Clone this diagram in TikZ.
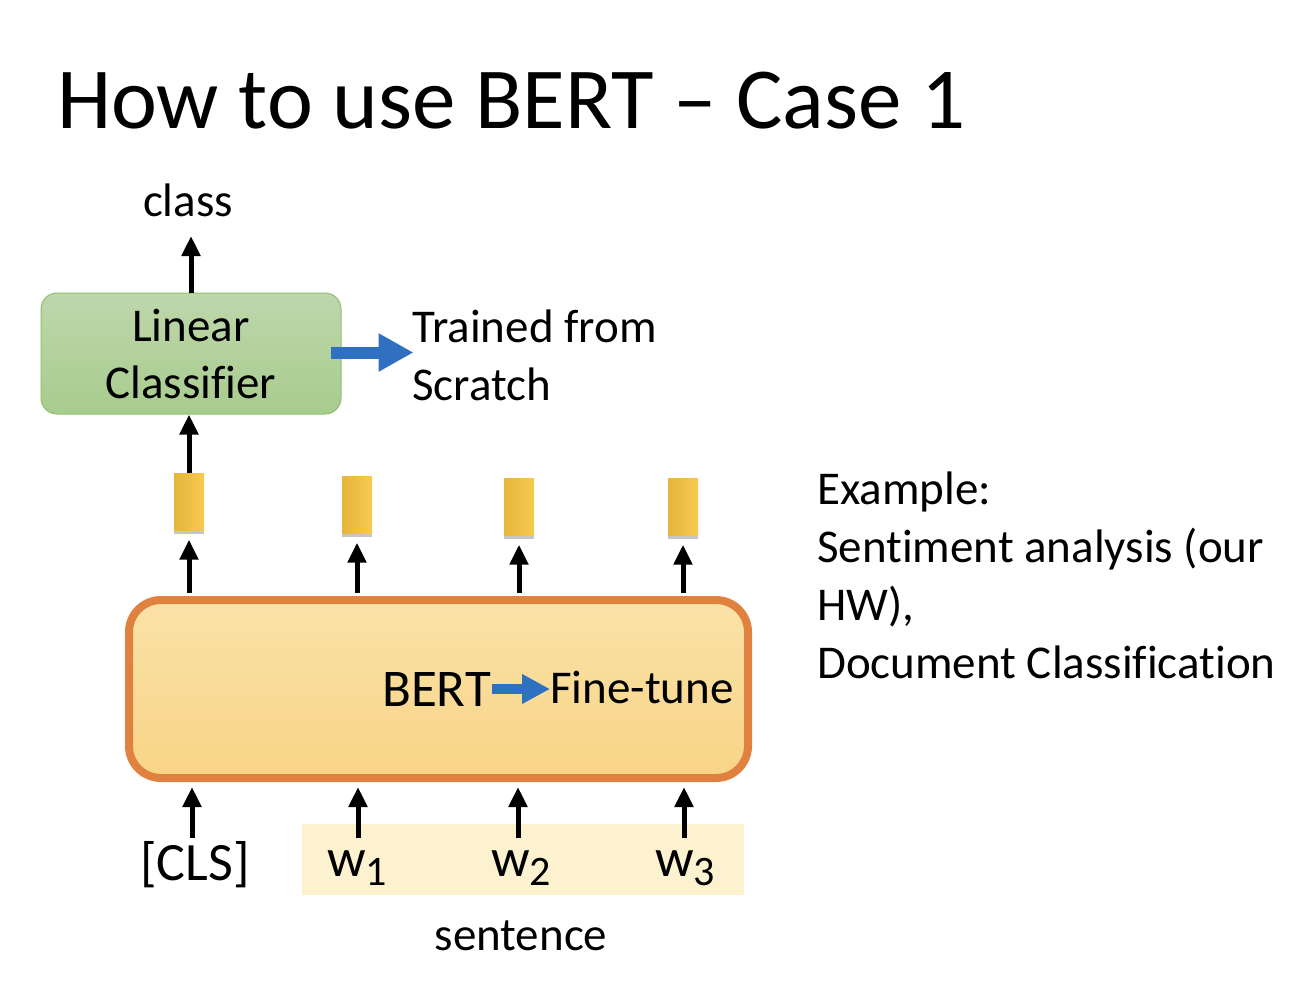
\documentclass[tikz,border=0pt]{standalone}
\usepackage{fontspec}
\setmainfont{Carlito}[Ligatures=NoCommon]
\usetikzlibrary{arrows.meta,shadows,calc}
\definecolor{lcT}{HTML}{BDD7AB}
\definecolor{lcBot}{HTML}{A8CC8E}
\definecolor{lcB}{HTML}{8FBF70}
\definecolor{bertT}{HTML}{FBE2A9}
\definecolor{bertBot}{HTML}{F8D486}
\definecolor{bertB}{HTML}{E0813F}
\definecolor{vecL}{HTML}{E6B53C}
\definecolor{vecR}{HTML}{F8CA4E}
\definecolor{sentF}{HTML}{FDF2CF}
\definecolor{blueA}{HTML}{3070C0}
\begin{document}
\begin{tikzpicture}[x=1pt,y=-1pt,
  txt/.style={inner sep=0pt, font=\fontsize{47}{58}\selectfont},
  big/.style={inner sep=0pt, font=\fontsize{54}{58}\selectfont},
  arr/.style={line width=5pt, -{Triangle[width=18pt,length=20pt]}},
  bluearr/.style={draw=blueA, line width=12pt, -{Triangle[width=36pt,length=35pt]}},
  bluearrS/.style={draw=blueA, line width=10pt, -{Triangle[width=28pt,length=28pt]}},
  vec/.style={minimum width=30pt, minimum height=57pt, inner sep=0pt,
    left color=vecL, right color=vecR,
    drop shadow={shadow xshift=0pt, shadow yshift=-3pt, opacity=0.45}},
]
\useasboundingbox (0,0) rectangle (1314,994);

% title
\node[anchor=base west, inner sep=0pt, font=\fontsize{87}{87}\selectfont] (title) at (57,128) {How to use BERT – Case 1};

% linear classifier
\node[draw=lcB, line width=1pt, rounded corners=16pt, top color=lcT, bottom color=lcBot,
      minimum width=300pt, minimum height=121pt, align=center, inner sep=0pt,
      font=\fontsize{47}{57}\selectfont] (lc) at (191,353.5) {Linear\\Classifier};
\node[txt, anchor=base] (class) at (188,216) {class};
\draw[arr] (lc.north) -- (lc.north |- 0,236);

\draw[bluearr] ($(lc.east)+(-11,-1)$) -- ++(83,0) coordinate (tipA);
\node[txt, anchor=north west, align=left] (trained) at (412,310) {Trained from\\Scratch};

% vectors
\node[vec] (v1) at (189,502) {};
\node[vec] (v2) at (357,505) {};
\node[vec] (v3) at (519,507) {};
\node[vec] (v4) at (683,507) {};
\draw[arr] (v1.north) -- (v1.north |- lc.south);

% BERT
\node[draw=bertB, line width=8pt, rounded corners=32pt, top color=bertT, bottom color=bertBot,
      minimum width=619pt, minimum height=178pt] (bert) at (438.5,689) {};
\node[anchor=base west, inner sep=0pt, font=\fontsize{53}{53}\selectfont] (berttxt) at (382,706) {BERT};
\node[txt, anchor=base west] (fine) at (550,703) {Fine-tune};
\draw[bluearrS] ($(berttxt.east)+(1,0)$) -- (berttxt.east -| fine.west);

\foreach \v in {v1,v2,v3,v4}{
  \draw[arr] ($(\v.south |- bert.north)+(0,-3)$) -- ($(\v.south)+(0,9)$);
}

% inputs
\node[fill=sentF, minimum width=442pt, minimum height=71pt, inner sep=0pt] (sent) at (523,859.5) {};
\node[big, anchor=base] (cls) at (195,880) {[CLS]};
\node[big, anchor=base] (w1) at (357,876) {w\raisebox{-9pt}{\fontsize{42}{42}\selectfont 1}};
\node[big, anchor=base] (w2) at (521,876) {w\raisebox{-9pt}{\fontsize{42}{42}\selectfont 2}};
\node[big, anchor=base] (w3) at (685,876) {w\raisebox{-9pt}{\fontsize{42}{42}\selectfont 3}};
\coordinate (t0) at (192,838);
\coordinate (t1) at (358,838);
\coordinate (t2) at (518,838);
\coordinate (t3) at (684,838);
\foreach \t in {t0,t1,t2,t3}{
  \draw[arr] (\t) -- ($(\t |- bert.south)+(0,5)$);
}
\node[txt, anchor=base] (sentence) at (521,950) {sentence};

% example
\node[txt, anchor=north west, align=left] (example) at (817,472)
  {Example:\\Sentiment analysis (our\\HW),\\Document Classification};
\end{tikzpicture}
\end{document}
